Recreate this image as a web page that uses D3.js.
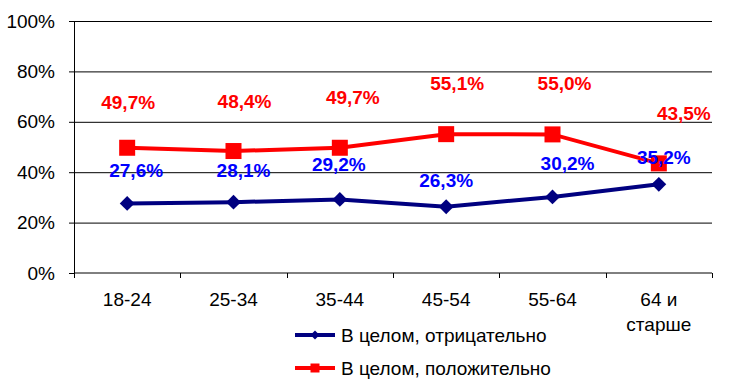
<!DOCTYPE html>
<html>
<head>
<meta charset="utf-8">
<script src="https://cdnjs.cloudflare.com/ajax/libs/d3/7.8.5/d3.min.js"></script>
<style>
  body { margin: 0; background: #fff; }
  text { font-family: "Liberation Sans", Arial, sans-serif; }
</style>
</head>
<body>
<div id="chart"></div>
<script>
// data
var categories = ["18-24", "25-34", "35-44", "45-54", "55-64", "64 и|старше"];
var negative = [27.6, 28.1, 29.2, 26.3, 30.2, 35.2];
var positive = [49.7, 48.4, 49.7, 55.1, 55.0, 43.5];
var seriesNames = ["В целом, отрицательно", "В целом, положительно"];
var yTicks = [0, 20, 40, 60, 80, 100];

// label nudges (layout only)
var negShift = [[9, -33], [10, -32], [-1, -35], [0, -26], [15, -33], [5, -27]];
var posShift = [[1, -45], [11, -50], [13, -50], [11, -51], [12, -51], [25, -50]];

var width = 730, height = 390;
var margin = { top: 21, right: 18, bottom: 117, left: 74 };
var w = width - margin.left - margin.right,
    h = height - margin.top - margin.bottom;

var svg = d3.select("#chart").append("svg")
    .attr("width", width)
    .attr("height", height);

var g = svg.append("g")
    .attr("transform", "translate(" + margin.left + "," + margin.top + ")");

var x = d3.scaleBand().domain(categories).range([0, w]);
var y = d3.scaleLinear().domain([0, 100]).range([h, 0]);

// gridlines
g.selectAll(".grid")
    .data(yTicks.slice(1))
    .enter().append("line")
    .attr("x1", 0).attr("x2", w)
    .attr("y1", function (d) { return y(d) + 0.5; })
    .attr("y2", function (d) { return y(d) + 0.5; })
    .attr("stroke", "#000").attr("stroke-width", 1);

// y axis
var yAxis = g.append("g")
    .call(d3.axisLeft(y).tickValues(yTicks).tickSize(5).tickPadding(14)
        .tickFormat(function (d) { return d + "%"; }));
yAxis.select(".domain").attr("stroke", "#000");
yAxis.selectAll("text").attr("font-size", 19).attr("fill", "#000")
    .style("font-family", "Liberation Sans, Arial, sans-serif");

// x axis
var xAxis = g.append("g")
    .attr("transform", "translate(0," + h + ")")
    .call(d3.axisBottom(x).tickSize(0).tickFormat(""));
xAxis.select(".domain").attr("d", "M0.5,0H" + w);

// category boundary ticks
g.selectAll(".xtick")
    .data(d3.range(categories.length + 1))
    .enter().append("line")
    .attr("x1", function (i) { return Math.round(i * x.step()) + 0.5; })
    .attr("x2", function (i) { return Math.round(i * x.step()) + 0.5; })
    .attr("y1", h).attr("y2", h + 5)
    .attr("stroke", "#000");

// category labels
g.selectAll(".xlab")
    .data(categories)
    .enter().append("text")
    .attr("text-anchor", "middle")
    .attr("font-size", 19)
    .attr("x", function (d) { return x(d) + x.bandwidth() / 2; })
    .attr("y", h + 33)
    .each(function (d) {
        var parts = d.split("|");
        var t = d3.select(this);
        parts.forEach(function (p, i) {
            t.append("tspan")
                .attr("x", x(d) + x.bandwidth() / 2)
                .attr("dy", i === 0 ? 0 : 25)
                .text(p);
        });
    });

function cx(i) { return x(categories[i]) + x.bandwidth() / 2; }

var line = d3.line()
    .x(function (d, i) { return cx(i); })
    .y(function (d) { return y(d); });

// negative series
g.append("path")
    .datum(negative)
    .attr("d", line)
    .attr("fill", "none")
    .attr("stroke", "#000080")
    .attr("stroke-width", 4);

g.selectAll(".diamond")
    .data(negative)
    .enter().append("path")
    .attr("d", d3.symbol().type(d3.symbolSquare).size(110))
    .attr("transform", function (d, i) {
        return "translate(" + cx(i) + "," + y(d) + ") rotate(45)";
    })
    .attr("fill", "#000080");

// positive series
g.append("path")
    .datum(positive)
    .attr("d", line)
    .attr("fill", "none")
    .attr("stroke", "#FF0000")
    .attr("stroke-width", 4);

g.selectAll(".square")
    .data(positive)
    .enter().append("rect")
    .attr("x", function (d, i) { return cx(i) - 8; })
    .attr("y", function (d) { return y(d) - 8; })
    .attr("width", 16).attr("height", 16)
    .attr("fill", "#FF0000");

function fmt(v) { return v.toFixed(1).replace(".", ",") + "%"; }

// data labels
g.selectAll(".plab")
    .data(positive)
    .enter().append("text")
    .attr("text-anchor", "middle")
    .attr("dominant-baseline", "central")
    .attr("font-size", 19).attr("font-weight", "bold")
    .attr("fill", "#FF0000")
    .attr("x", function (d, i) { return cx(i) + posShift[i][0]; })
    .attr("y", function (d, i) { return y(d) + posShift[i][1]; })
    .text(fmt);

g.selectAll(".nlab")
    .data(negative)
    .enter().append("text")
    .attr("text-anchor", "middle")
    .attr("dominant-baseline", "central")
    .attr("font-size", 19).attr("font-weight", "bold")
    .attr("fill", "#0000FF")
    .attr("x", function (d, i) { return cx(i) + negShift[i][0]; })
    .attr("y", function (d, i) { return y(d) + negShift[i][1]; })
    .text(fmt);

// legend
var legend = svg.append("g")
    .attr("transform", "translate(295,335)");

var items = legend.selectAll("g")
    .data(seriesNames)
    .enter().append("g")
    .attr("transform", function (d, i) { return "translate(0," + i * 33 + ")"; });

items.append("line")
    .attr("x1", 0).attr("x2", 40)
    .attr("y1", 0).attr("y2", 0)
    .attr("stroke-width", 4)
    .attr("stroke", function (d, i) { return i === 0 ? "#000080" : "#FF0000"; });

items.append("path")
    .attr("d", function (d, i) {
        return i === 0
            ? d3.symbol().type(d3.symbolSquare).size(40)()
            : d3.symbol().type(d3.symbolSquare).size(81)();
    })
    .attr("transform", function (d, i) {
        return "translate(20,0)" + (i === 0 ? " rotate(45)" : "");
    })
    .attr("fill", function (d, i) { return i === 0 ? "#000080" : "#FF0000"; });

items.append("text")
    .attr("x", 46)
    .attr("dy", "0.35em")
    .attr("font-size", 19)
    .attr("fill", "#000")
    .text(function (d) { return d; });
</script>
</body>
</html>
